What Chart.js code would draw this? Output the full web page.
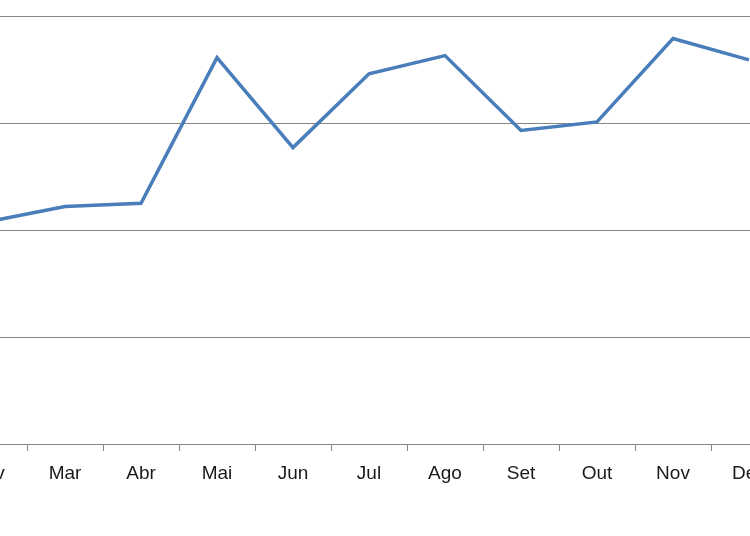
<!DOCTYPE html>
<html>
<head>
<meta charset="utf-8">
<script src="https://cdn.jsdelivr.net/npm/chart.js@4/dist/chart.umd.min.js"></script>
<style>
  html, body { margin: 0; padding: 0; background: #fff; overflow: hidden; }
  body { width: 750px; height: 536px; position: relative; }
  /* the reference is a crop of a wider chart: the plot runs off both edges */
  #wrap { position: absolute; left: -49px; top: 0; width: 836px; height: 536px; }
</style>
</head>
<body>
<div id="wrap"><canvas id="chart"></canvas></div>
<script>
// months visible in the crop (Fev is cut at the left edge, Dez at the right)
const months = ['Fev', 'Mar', 'Abr', 'Mai', 'Jun', 'Jul', 'Ago', 'Set', 'Out', 'Nov', 'Dez'];
const values = [208, 222, 225, 361, 277, 346, 363, 293, 301, 379, 359];
const yTicks = [0, 100, 200, 300, 400];

const gridGray = '#868686';

const ctx = document.getElementById('chart');
new Chart(ctx, {
    type: 'line',
    data: {
        labels: months,
        datasets: [{
            data: values,
            borderColor: '#4a7ebb',
            borderWidth: 3.5,
            pointRadius: 0,
            tension: 0,
            fill: false
        }]
    },
    options: {
        responsive: true,
        maintainAspectRatio: false,
        animation: false,
        layout: { padding: { top: 16, left: 0, right: 0, bottom: 0 } },
        plugins: {
            legend: { display: false },
            tooltip: { enabled: false }
        },
        scales: {
            x: {
                offset: true,
                grid: {
                    offset: true,
                    drawOnChartArea: false,
                    drawTicks: true,
                    tickLength: 7,
                    color: gridGray,
                    lineWidth: 1
                },
                border: { display: true, color: gridGray, width: 1 },
                ticks: {
                    color: '#1a1a1a',
                    padding: 11,
                    maxRotation: 0,
                    autoSkip: false,
                    font: { family: '"Liberation Sans", Arial, sans-serif', size: 19 }
                },
                afterFit: (scale) => { scale.height = 92; }
            },
            y: {
                min: yTicks[0],
                max: yTicks[yTicks.length - 1],
                afterBuildTicks: (scale) => { scale.ticks = yTicks.map(v => ({ value: v })); },
                grid: { color: gridGray, lineWidth: 1, drawTicks: false },
                border: { display: false },
                ticks: { display: false },
                afterFit: (scale) => { scale.width = 0; }
            }
        }
    }
});
</script>
</body>
</html>
